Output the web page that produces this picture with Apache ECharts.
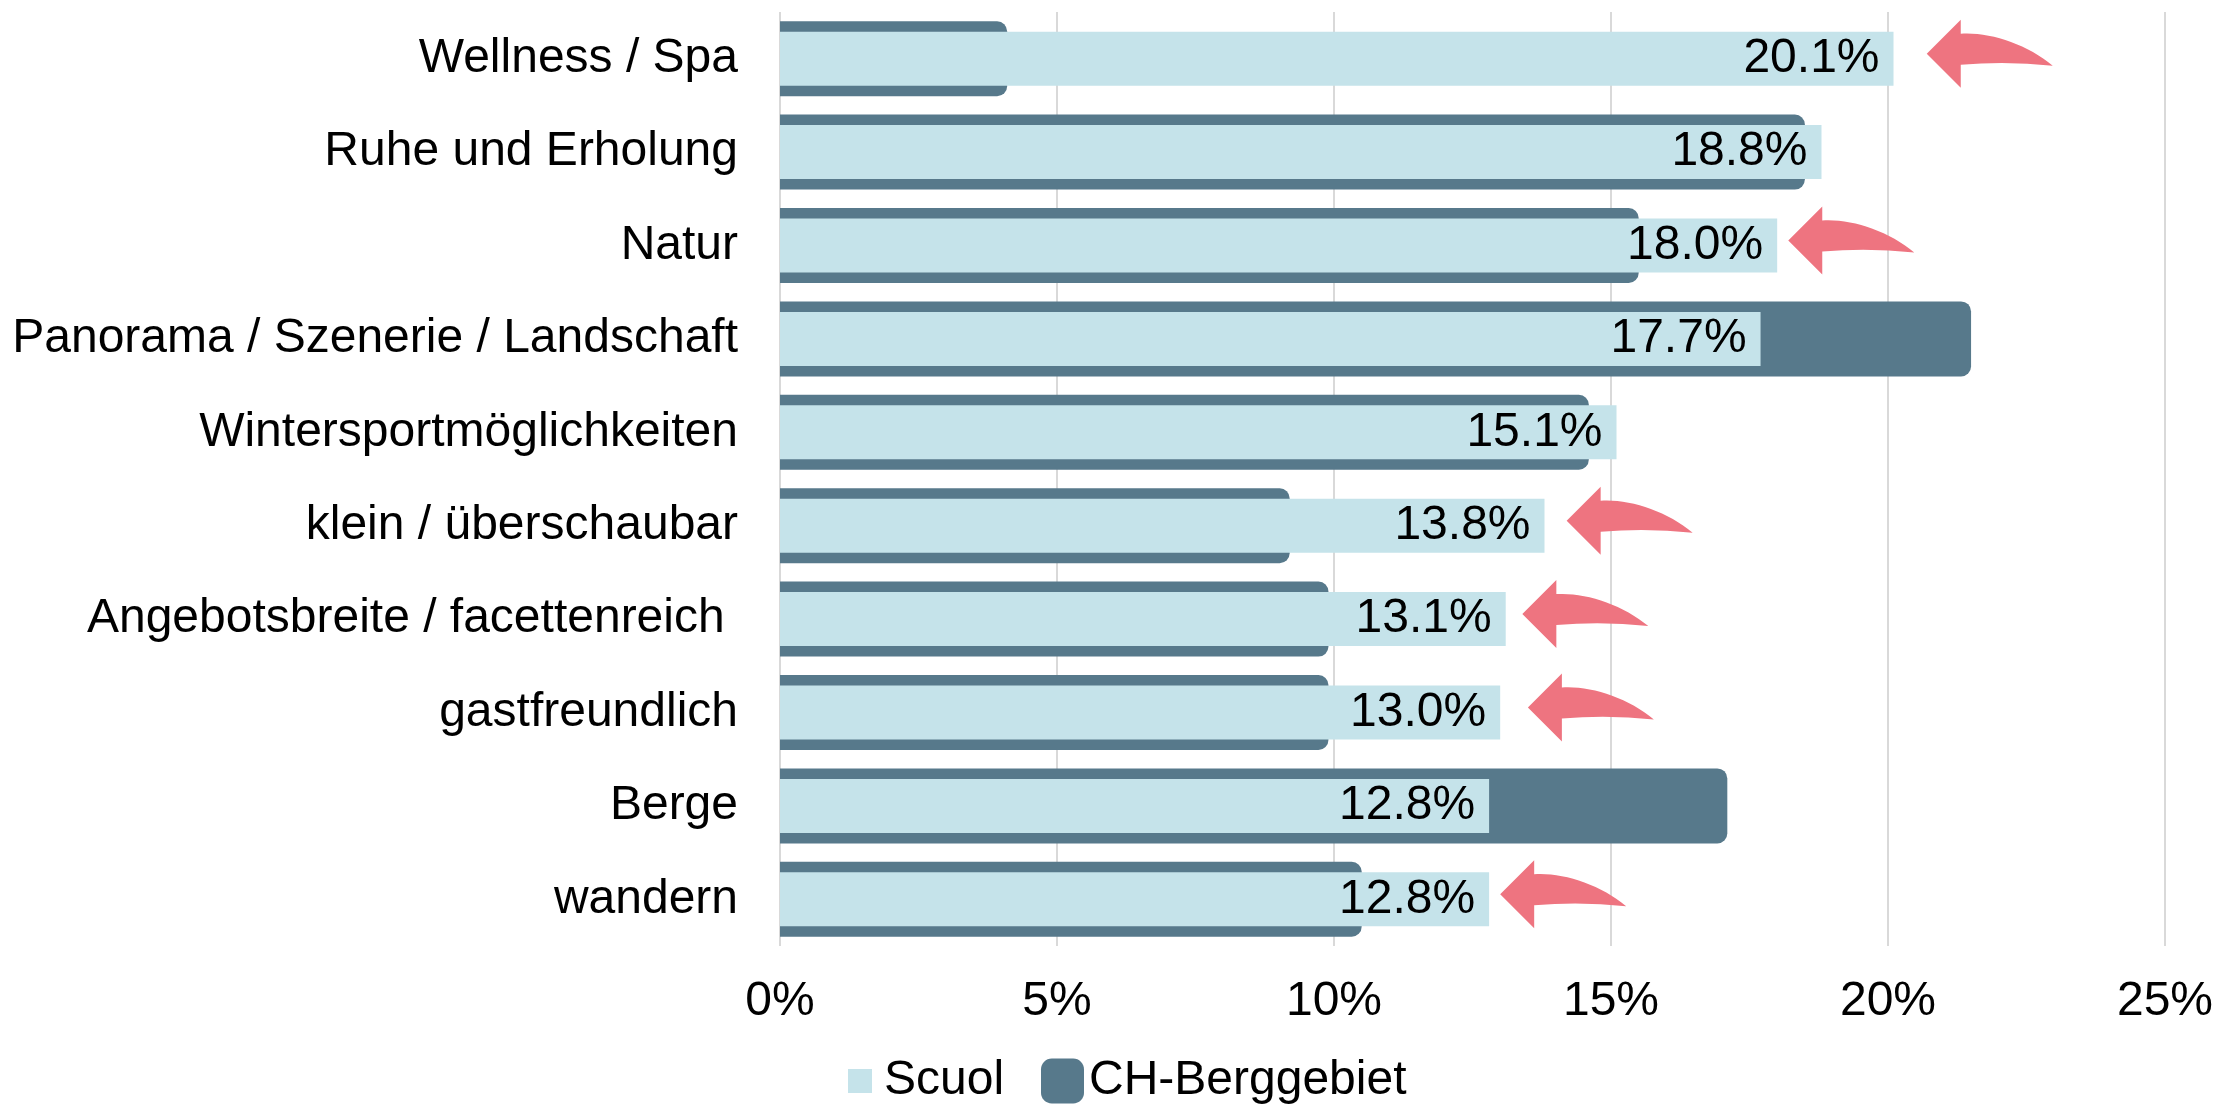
<!DOCTYPE html>
<html>
<head>
<meta charset="utf-8">
<script src="https://cdn.jsdelivr.net/npm/echarts@6/dist/echarts.min.js"></script>
<style>
  html, body { margin: 0; padding: 0; background: #ffffff; }
  #chart { width: 2216px; height: 1105px; }
</style>
</head>
<body>
<div id="chart"></div>
<script>
// Kategorien von oben nach unten
const categories = [
  'Wellness / Spa',
  'Ruhe und Erholung',
  'Natur',
  'Panorama / Szenerie / Landschaft',
  'Wintersportmöglichkeiten',
  'klein / überschaubar',
  'Angebotsbreite / facettenreich ',
  'gastfreundlich',
  'Berge',
  'wandern'
];
const scuol = [20.1, 18.8, 18.0, 17.7, 15.1, 13.8, 13.1, 13.0, 12.8, 12.8];
const chBerggebiet = [4.1, 18.5, 15.5, 21.5, 14.6, 9.2, 9.9, 9.9, 17.1, 10.5];
// Pfeilspitze (in %) bei den Kategorien mit Hinweis-Pfeil
const arrowTips = [20.7, null, 18.2, null, null, 14.2, 13.4, 13.5, null, 13.0];
const xMin = 0, xMax = 25, xStep = 5;

const font = '"Liberation Sans", Arial, sans-serif';
const light = '#C5E3EA';
const dark = '#57798B';
const pink = '#EE7480';

const arrowData = [];
arrowTips.forEach((v, i) => { if (v != null) arrowData.push([v, i]); });

const chart = echarts.init(document.getElementById('chart'));

function renderArrow(params, api) {
  const p = api.coord([api.value(0), api.value(1)]);
  const x = p[0], y = p[1] - 5;
  const P = (dx, dy) => (x + dx) + ' ' + (y + dy);
  const d = 'M ' + P(0, 0) +
    ' L ' + P(34, -34) +
    ' L ' + P(34, -20) +
    ' C ' + P(62, -22) + ' ' + P(100, -10) + ' ' + P(126, 12) +
    ' Q ' + P(80, 7) + ' ' + P(34, 11) +
    ' L ' + P(34, 34) + ' Z';
  return {
    type: 'path',
    shape: { pathData: d },
    style: { fill: pink }
  };
}

const catAxis = {
  type: 'category',
  data: categories,
  inverse: true,
  axisLine: { show: false },
  axisTick: { show: false }
};

chart.setOption({
  animation: false,
  textStyle: { fontFamily: font },
  grid: { left: 780, right: 51, top: 12, bottom: 159 },
  legend: [
    {
      data: ['Scuol'],
      left: 848, top: 1053, padding: 0,
      itemWidth: 24, itemHeight: 24,
      icon: 'rect',
      textStyle: { fontSize: 48, color: '#000', fontFamily: font, lineHeight: 56, padding: [0, 0, 0, 7] }
    },
    {
      data: ['CH-Berggebiet'],
      left: 1041, top: 1053, padding: 0,
      itemWidth: 43, itemHeight: 45,
      icon: 'roundRect',
      textStyle: { fontSize: 48, color: '#000', fontFamily: font, lineHeight: 56 }
    }
  ],
  xAxis: {
    type: 'value',
    min: xMin, max: xMax, interval: xStep,
    axisLine: { show: false },
    axisTick: { show: false },
    splitLine: { lineStyle: { color: '#D9D9D9', width: 2 } },
    axisLabel: {
      formatter: v => v + '%',
      fontSize: 48, color: '#000', fontFamily: font,
      lineHeight: 48, margin: 32
    }
  },
  yAxis: [
    Object.assign({}, catAxis, {
      axisLabel: { fontSize: 48, color: '#000', fontFamily: font, margin: 42 }
    }),
    Object.assign({}, catAxis, { show: false })
  ],
  series: [
    {
      name: 'CH-Berggebiet',
      type: 'bar',
      yAxisIndex: 0,
      data: chBerggebiet,
      barWidth: 75,
      itemStyle: { color: dark, borderRadius: [0, 10, 10, 0] },
      z: 2
    },
    {
      name: 'Scuol',
      type: 'bar',
      yAxisIndex: 1,
      data: scuol,
      barWidth: 54,
      itemStyle: { color: light },
      label: {
        show: true,
        position: 'insideRight',
        distance: 14,
        formatter: p => p.value.toFixed(1) + '%',
        fontSize: 48, color: '#000', fontFamily: font
      },
      z: 3
    },
    {
      name: 'Pfeile',
      type: 'custom',
      yAxisIndex: 0,
      data: arrowData,
      renderItem: renderArrow,
      silent: true,
      z: 4
    }
  ]
});
</script>
</body>
</html>
